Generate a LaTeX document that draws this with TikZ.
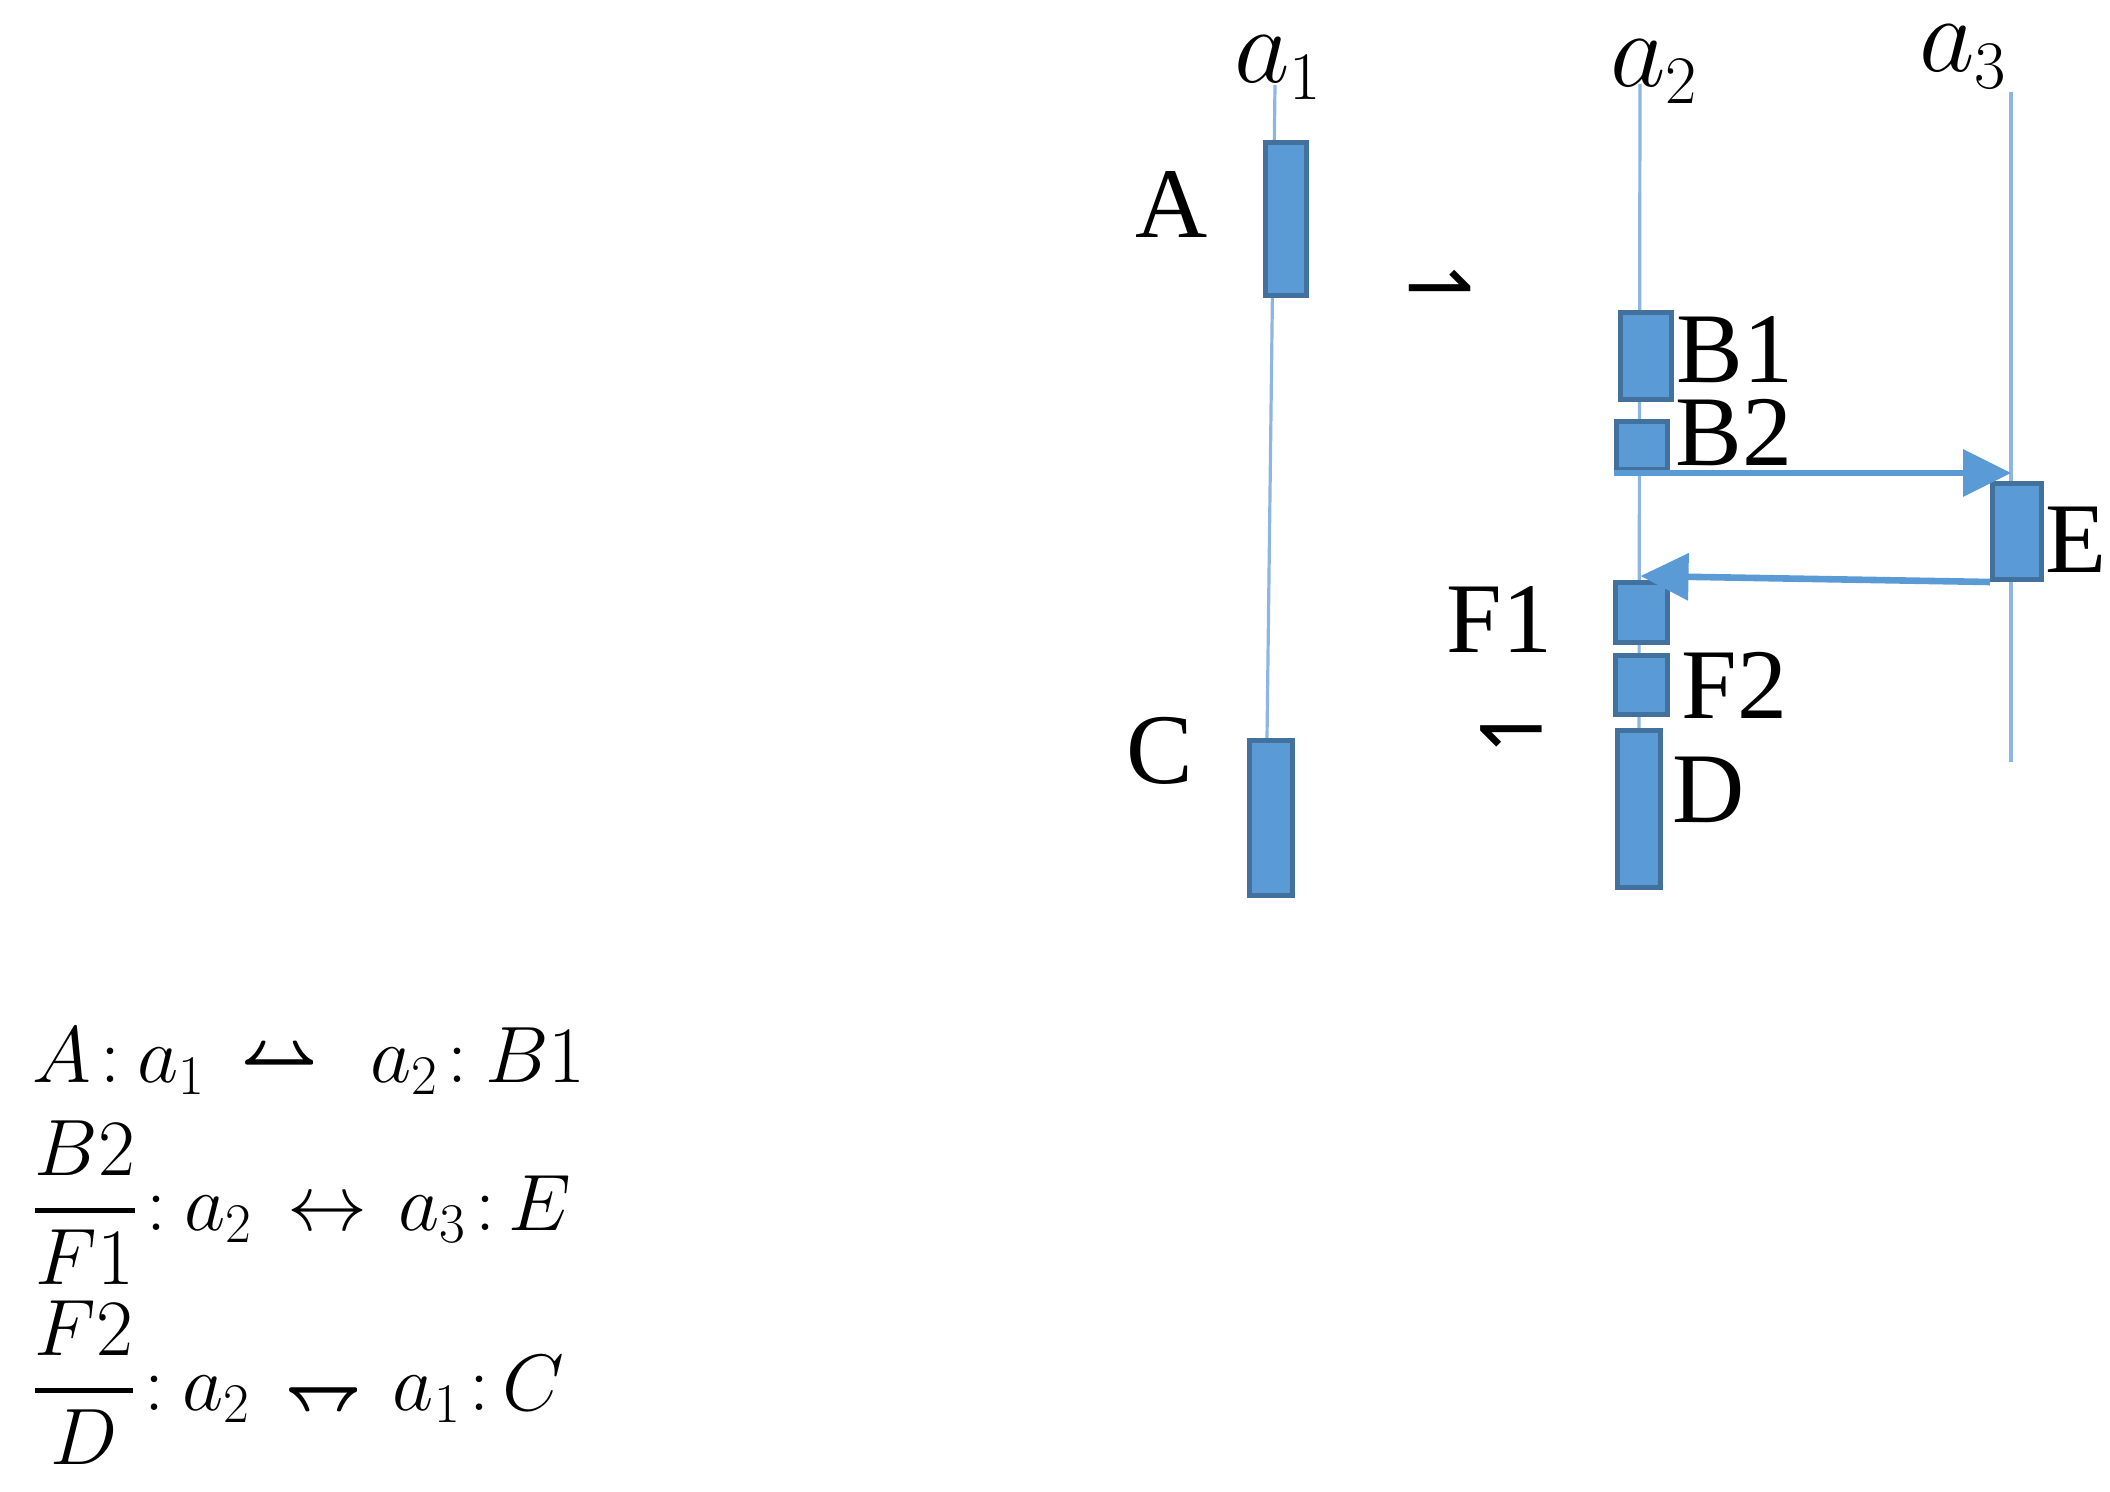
\RequirePackage{fix-cm}
\documentclass[tikz,border=0pt]{standalone}
\usepackage[no-math]{fontspec}
\setmainfont{Liberation Serif}
\newfontfamily\lbfont{Liberation Serif}
\newfontfamily\symfont{DejaVu Sans}
\usepackage{graphicx}
\usetikzlibrary{arrows.meta,calc,backgrounds}
\DeclareMathSizes{54}{54}{34}{24}
\DeclareMathSizes{40}{40}{28}{20}
\definecolor{boxfill}{RGB}{91,155,213}
\definecolor{boxedge}{RGB}{65,113,156}
\definecolor{lifeblue}{RGB}{141,182,227}
\definecolor{msgblue}{RGB}{91,155,213}
\newcommand{\harpupboth}{\mathrel{\scalebox{0.83}[1]{\boldmath$\leftharpoonup$\llap{$\rightharpoonup$}}}}
\newcommand{\harpdownboth}{\mathrel{\scalebox{0.83}[1]{\boldmath$\leftharpoondown$\llap{$\rightharpoondown$}}}}
\tikzset{
  act/.style={draw=boxedge, fill=boxfill, line width=2.5pt, inner sep=0pt},
  life/.style={draw=lifeblue, line width=1.6pt},
  msg/.style={draw=msgblue, line width=3.3pt, -{Triangle[length=24pt,width=23pt]}},
  lbl/.style={inner sep=0pt, anchor=base west, font=\lbfont\fontsize{50}{50}\selectfont},
  alabel/.style={inner sep=0pt, anchor=base west, font=\fontsize{54}{54}\selectfont},
  harp/.style={inner sep=0pt, anchor=base west, font=\symfont\fontsize{42}{42}\selectfont},
  fml/.style={inner sep=0pt, anchor=base west, font=\fontsize{40}{40}\selectfont},
}
\begin{document}
\begin{tikzpicture}[x=0.5pt,y=-0.5pt]
\useasboundingbox (0,0) rectangle (2110,1492);
% activation boxes
\node[act, minimum width=20.5pt, minimum height=76.5pt] (A)  at (1286,219) {};
\node[act, minimum width=21.5pt, minimum height=77.5pt] (C)  at (1271,818) {};
\node[act, minimum width=25.5pt, minimum height=43.5pt] (B1) at (1646,356) {};
\node[act, minimum width=25.5pt, minimum height=24pt]   (B2) at (1642,445.5) {};
\node[act, minimum width=24.5pt, minimum height=48pt]   (E)  at (2017,531.5) {};
\node[act, minimum width=26pt,   minimum height=30pt]   (F1) at (1641.5,612.5) {};
\node[act, minimum width=26pt,   minimum height=29.5pt] (F2) at (1641.5,685) {};
\node[act, minimum width=21.5pt, minimum height=78.5pt] (D)  at (1639,809) {};
% lifeline heads
\node[alabel] (la1) at (1234,83) {$a_1$};
\node[alabel] (la2) at (1610,87) {$a_2$};
\node[alabel] (la3) at (1919,72) {$a_3$};
\coordinate (a1top) at (1275,85);
\coordinate (a2top) at (1640,84);
\coordinate (a3top) at (2011,92);
\coordinate (a3bot) at (2011,762);
\begin{pgfonlayer}{background}
\draw[life] (a1top) -- ($(C.north)+(-4,0)$);
\draw[life] (a2top) -- (D.north);
\draw[life] (a3top) -- (a3bot);
\end{pgfonlayer}
% messages
\coordinate (Etip) at ($(E.north)+(-6,-10)$);
\draw[msg] ($(B2.south west)+(0,1)$) -- ($(B2.south east -| Etip)+(0,1)$);
\draw[msg] (E.south west) -- ($(F1.north)+(-1,-4)$);
% box labels
\node[lbl] (tA)  at (1135,238) {A};
\node[lbl] (tC)  at (1126,783) {C};
\node[lbl] (tB1) at (1676,383) {B1};
\node[lbl] (tB2) at (1675,466) {B2};
\node[lbl] (tE)  at (2045,572) {E};
\node[lbl] (tF1) at (1446,652) {F1};
\node[lbl] (tF2) at (1681,718) {F2};
\node[lbl] (tD)  at (1672,822) {D};
% harpoon marks
\node[harp] (h1) at (1404,315) {⇀};
\node[harp] (h2) at (1476,755) {↽};
% formulas
\node[fml] (f1) at (32,1082) {$A\mkern2mu{:}\mkern4mu a_1\mkern3mu\harpupboth\mkern7mu a_2\mkern2mu{:}\mkern4mu B1$};
\node[fml] (f2) at (32,1230) {$\displaystyle{B2\above 2.5pt F1}\mkern2mu{:}\mkern4mu a_2\mkern3mu\leftrightarrow\mkern2mu a_3\mkern2mu{:}\mkern3mu E$};
\node[fml] (f3) at (32,1410) {$\displaystyle{F2\above 2.5pt D}\mkern2mu{:}\mkern4mu a_2\mkern3mu\harpdownboth\mkern2mu a_1\mkern2mu{:}\mkern3mu C$};
\end{tikzpicture}
\end{document}
